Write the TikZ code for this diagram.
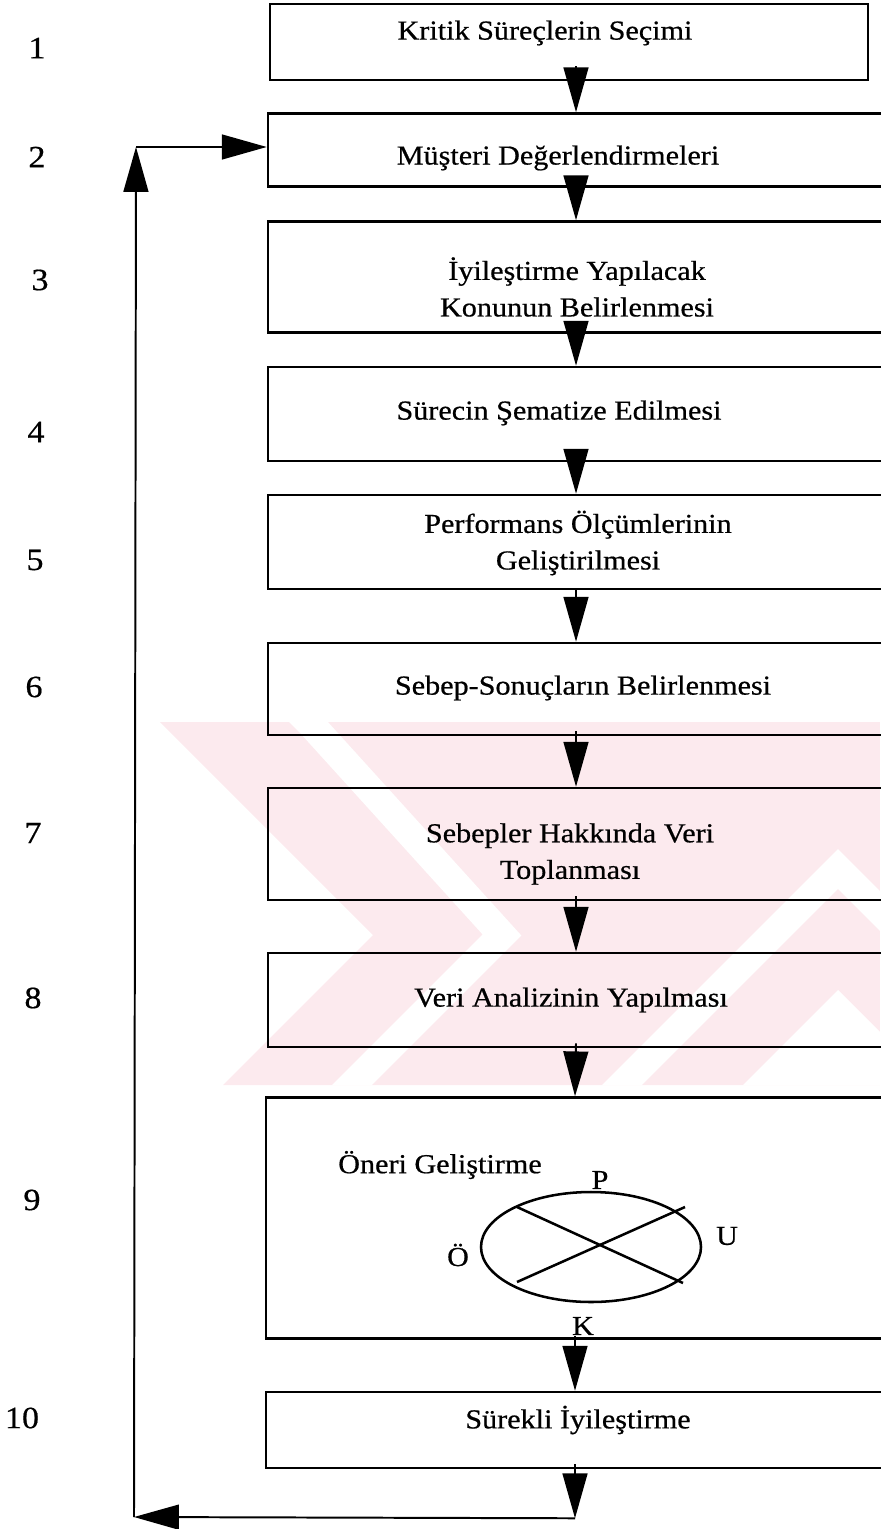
\documentclass[tikz,border=0pt]{standalone}
\usepackage{fontspec}
\setmainfont{Liberation Serif}[FakeStretch=1.1, FakeBold=0.6]
\usepackage{tikz}
\usetikzlibrary{
  arrows.meta,
  shapes.geometric,
  positioning,
  calc
}
\definecolor{pdLine}{HTML}{000000}
\definecolor{pdMark}{HTML}{FCEAEE}
\newcommand{\pxu}{0.025cm}
\tikzset{
  stepbox/.style={
    draw=pdLine, line width=1.8pt, rectangle, inner sep=0pt
  },
  steptext/.style={font=\fontsize{19.5}{26}\selectfont, align=center, inner sep=0pt},
  flow/.style={-{Triangle[length=11.2mm, width=6.2mm]}, line width=1.4pt, pdLine},
  numtag/.style={font=\fontsize{22}{26}\selectfont, inner sep=0pt},
  letter/.style={font=\fontsize{19.5}{22}\selectfont, inner sep=0pt},
  crossline/.style={line width=1.8pt, pdLine},
  markgap/.style={draw=white, line width=28*\pxu, miter limit=4}
}

\begin{document}
\begin{tikzpicture}[x=\pxu, y=-\pxu]
  \useasboundingbox (0,0) rectangle (880,1529);

  % faint watermark behind the chart
  \begin{scope}
    \clip (160,722) -- (880,722) -- (880,1085) -- (223,1085) -- (373,935) -- cycle;
    \fill[pdMark] (0,700) rectangle (900,1100);
    \draw[markgap] (287,700) -- (309,722) -- (502,935) -- (352,1085) -- (330,1107);
    \draw[markgap] (600,1107) -- (838,869) -- (1076,1107);
    \fill[white] (743,1085) -- (838,990) -- (933,1085) -- cycle;
  \end{scope}

  % steps
  \node[stepbox, minimum width=598*\pxu, minimum height=76*\pxu] (b1) at (569,42) {};
  \node[stepbox, minimum width=616*\pxu, minimum height=73*\pxu] (b2) at (576,150) {};
  \node[stepbox, minimum width=616*\pxu, minimum height=111*\pxu] (b3) at (576,277) {};
  \node[stepbox, minimum width=616*\pxu, minimum height=94*\pxu] (b4) at (576,414) {};
  \node[stepbox, minimum width=616*\pxu, minimum height=94*\pxu] (b5) at (576,542) {};
  \node[stepbox, minimum width=616*\pxu, minimum height=92*\pxu] (b6) at (576,689) {};
  \node[stepbox, minimum width=616*\pxu, minimum height=112*\pxu] (b7) at (576,844) {};
  \node[stepbox, minimum width=616*\pxu, minimum height=94*\pxu] (b8) at (576,1000) {};
  \node[stepbox, minimum width=618*\pxu, minimum height=241*\pxu] (b9) at (575,1218) {};
  \node[stepbox, minimum width=618*\pxu, minimum height=76*\pxu] (b10) at (575,1430) {};

  % step texts
  \node[steptext] (t1) at (545,33) {Kritik Süreçlerin Seçimi};
  \node[steptext] (t2) at (558,158) {Müşteri Değerlendirmeleri};
  \node[steptext] (t3) at (577,287) {İyileştirme Yapılacak\\Konunun Belirlenmesi};
  \node[steptext] (t4) at (559,413) {Sürecin Şematize Edilmesi};
  \node[steptext] (t5) at (578,543) {Performans Ölçümlerinin\\Geliştirilmesi};
  \node[steptext] (t6) at (583,688) {Sebep-Sonuçların Belirlenmesi};
  \node[steptext] (t7) at (570,854) {Sebepler Hakkında Veri\\Toplanması};
  \node[steptext] (t8) at (571,1000) {Veri Analizinin Yapılması};
  \node[steptext] (t10) at (578,1420) {Sürekli İyileştirme};

  % step numbers
  \node[numtag] (n1) at (37,48) {1};
  \node[numtag] (n2) at (37,157) {2};
  \node[numtag] (n3) at (40,280) {3};
  \node[numtag] (n4) at (36,432) {4};
  \node[numtag] (n5) at (35,560) {5};
  \node[numtag] (n6) at (34,687) {6};
  \node[numtag] (n7) at (33,833) {7};
  \node[numtag] (n8) at (33,998) {8};
  \node[numtag] (n9) at (32,1200) {9};
  \node[numtag] (n10) at (22,1418) {10};

  % inside step 9
  \node[letter] (oneri) at (440,1165) {Öneri Geliştirme};
  \node[draw=pdLine, ellipse, line width=1.8pt, inner sep=0pt,
        minimum width=220*\pxu, minimum height=110*\pxu] (pukoe) at (591,1247) {};
  \draw[crossline] ($(pukoe.center)+(-74,-40)$) -- ($(pukoe.center)+(92,36)$);
  \draw[crossline] ($(pukoe.center)+(-74,35)$) -- ($(pukoe.center)+(94,-40)$);
  \node[letter] (lp) at (600,1180) {P};
  \node[letter] (lu) at (727,1236) {U};
  \node[letter] (lo) at (458,1255) {Ö};
  \node[letter] (lk) at (583,1326) {K};

  % flow between steps
  \draw[flow] ($(b1.south -| b2.north)+(0,-15)$) -- (b2.north);
  \draw[flow] ($(b2.south)+(0,-12)$) -- (b3.north);
  \draw[flow] ($(b3.south)+(0,-10)$) -- (b4.north);
  \draw[flow] ($(b4.south)+(0,-11)$) -- (b5.north);
  \draw[flow] (b5.south) -- (b6.north);
  \draw[flow] ($(b6.south)+(0,-5)$) -- (b7.north);
  \draw[flow] ($(b7.south)+(0,-5)$) -- (b8.north);
  \draw[flow] ($(b8.south)+(0,-5)$) -- (b9.north);
  \draw[flow] ($(b9.south)+(0,-4)$) -- (b10.north);

  % feedback loop
  \coordinate (fbr) at ($(b10.south)+(0,49)$);
  \coordinate (fbl) at (134,1517);
  \coordinate (ftl) at (136,147);
  \draw[flow] ($(b10.south)+(0,-5)$) -- (fbr);
  \draw[flow] (fbr) -- (fbl);
  \draw[flow] (fbl) -- (ftl);
  \draw[flow] (ftl) -- (ftl -| b2.west);
\end{tikzpicture}
\end{document}
